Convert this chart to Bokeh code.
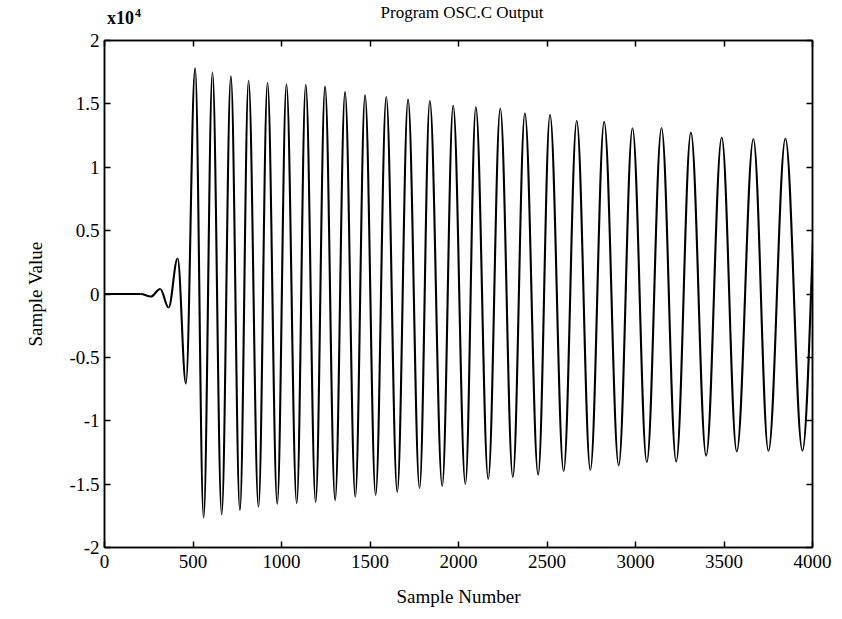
from bokeh.plotting import figure
from bokeh.models import (Range1d, FixedTicker, LinearAxis, ColumnDataSource,
                          CustomJSTickFormatter, Div)
from bokeh.layouts import column
from bokeh.embed import file_html
from bokeh.resources import INLINE

# ---- data (sample number, sample value) ----
onset_samples = [0, 205, 262, 315, 362, 413, 460]
onset_values = [0, 0, -200, 400, -1070, 2800, -7060]

peak_samples = [512, 610, 714, 814, 921, 1028, 1137, 1246, 1359, 1472, 1592, 1715, 1838,
                1970, 2098, 2236, 2375, 2517, 2668, 2823, 2983, 3147, 3313, 3487, 3666, 3847]
peak_values = [17800, 17470, 17170, 16830, 16670, 16540, 16510, 16360, 15930, 15680, 15560,
               15360, 15240, 14860, 14740, 14630, 14250, 14140, 13670, 13590, 13080, 13100,
               12730, 12350, 12230, 12260]

trough_samples = [560, 662, 765, 870, 976, 1086, 1193, 1303, 1417, 1532, 1654, 1780, 1908,
                  2039, 2168, 2307, 2450, 2594, 2745, 2905, 3064, 3230, 3399, 3572, 3751, 3943]
trough_values = [-17650, -17380, -17060, -16780, -16560, -16500, -16410, -16270, -16000,
                 -15850, -15620, -15300, -15150, -15010, -14600, -14450, -14250, -13980,
                 -13880, -13520, -13270, -13230, -12750, -12420, -12380, -12360]

tail_samples = [4040]
tail_values = [12250]

x_ticks = [0, 500, 1000, 1500, 2000, 2500, 3000, 3500, 4000]
y_ticks = [-20000, -15000, -10000, -5000, 0, 5000, 10000, 15000, 20000]
y_tick_labels = ["-2", "-1.5", "-1", "-0.5", "0", "0.5", "1", "1.5", "2"]

title_text = "Program OSC.C Output"
scale_text = "x10"
scale_exp = "4"

# ---- smooth half-wave segments between successive extrema ----
pts = sorted(zip(onset_samples + peak_samples + trough_samples + tail_samples,
                 onset_values + peak_values + trough_values + tail_values))
xs = [a for a, b in pts]
ys = [b for a, b in pts]
k = 0.3634
seg = dict(x0=[], y0=[], x1=[], y1=[], cx0=[], cy0=[], cx1=[], cy1=[])
for i in range(len(xs) - 1):
    xa, xb, ya, yb = xs[i], xs[i + 1], ys[i], ys[i + 1]
    d = xb - xa
    seg["x0"].append(xa); seg["y0"].append(ya)
    seg["x1"].append(xb); seg["y1"].append(yb)
    seg["cx0"].append(xa + k * d); seg["cy0"].append(ya)
    seg["cx1"].append(xb - k * d); seg["cy1"].append(yb)
src = ColumnDataSource(seg)

FONT = "Liberation Serif"
W = 834
HEAD = 30
H = 611 - HEAD
LEFT, RIGHT, TOP, BOTTOM = 104, 22, 10, 64

# heading strip (title and the x10^4 scale factor)
head_html = (
    f'<div style="position:relative;width:{W}px;height:{HEAD}px;'
    f'font-family:\'{FONT}\';color:black;line-height:1;">'
    f'<span style="position:absolute;left:107px;top:9px;font-size:18px;font-weight:bold;">{scale_text}</span>'
    f'<span style="position:absolute;left:135px;top:7px;font-size:12px;font-weight:bold;">{scale_exp}</span>'
    f'<span style="position:absolute;left:{LEFT}px;width:{W - LEFT - RIGHT + 8}px;top:4px;'
    f'font-size:17px;text-align:center;">{title_text}</span>'
    f'</div>'
)
head = Div(text=head_html, width=W, height=HEAD, margin=(0, 0, 0, 0))

p = figure(width=W, height=H, output_backend="svg", toolbar_location=None,
           x_range=Range1d(0, 4000), y_range=Range1d(-20000, 20000),
           min_border_left=LEFT, min_border_right=RIGHT, min_border_top=TOP,
           min_border_bottom=BOTTOM)
p.title.visible = False
p.background_fill_color = "white"
p.border_fill_color = "white"
p.xgrid.visible = False
p.ygrid.visible = False
p.outline_line_color = "black"
p.outline_line_width = 1.5
p.outline_line_alpha = 1.0
p.margin = (0, 0, 0, 0)

p.bezier(x0="x0", y0="y0", x1="x1", y1="y1", cx0="cx0", cy0="cy0", cx1="cx1", cy1="cy1",
         source=src, line_color="black", line_width=2.1)

def style_axis(ax, ticks, show_labels):
    ax.ticker = FixedTicker(ticks=ticks)
    ax.major_tick_in = 6
    ax.major_tick_out = 0
    ax.minor_tick_in = 0
    ax.minor_tick_out = 0
    ax.major_tick_line_color = "black"
    ax.major_tick_line_width = 1.5
    ax.axis_line_color = "black"
    ax.axis_line_width = 1.5
    ax.major_label_text_font = FONT
    ax.major_label_text_color = "black"
    ax.axis_label_text_font = FONT
    ax.axis_label_text_font_style = "normal"
    ax.axis_label_text_color = "black"
    if show_labels:
        ax.major_label_text_font_size = "19px"
    else:
        ax.formatter = CustomJSTickFormatter(code="return '';")
        ax.major_label_text_font_size = "1px"
        ax.major_label_standoff = 0

xa = p.xaxis[0]
style_axis(xa, x_ticks, True)
xa.major_label_standoff = 7
xa.axis_label = "Sample Number"
xa.axis_label_text_font_size = "19px"
xa.axis_label_standoff = 15

ya = p.yaxis[0]
style_axis(ya, y_ticks, True)
ya.major_label_standoff = 5
ya.major_label_overrides = {t: s for t, s in zip(y_ticks, y_tick_labels)}
ya.axis_label = "Sample Value"
ya.axis_label_text_font_size = "19px"
ya.axis_label_standoff = 20

top_ax = LinearAxis()
style_axis(top_ax, x_ticks, False)
p.add_layout(top_ax, "above")
right_ax = LinearAxis()
style_axis(right_ax, y_ticks, False)
p.add_layout(right_ax, "right")

layout = column(head, p, spacing=0, margin=(0, 0, 0, 0))

open("out.html", "w").write(file_html(layout, INLINE))
